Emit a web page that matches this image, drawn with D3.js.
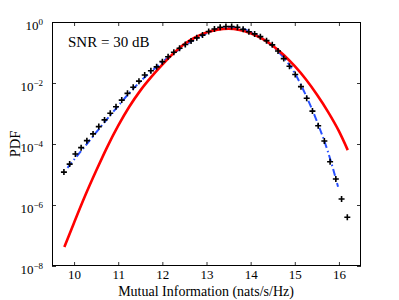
<!DOCTYPE html>
<html><head><meta charset="utf-8">
<script src="https://cdn.jsdelivr.net/npm/d3@7"></script>
<style>
html,body{margin:0;padding:0;background:#fff;}
svg text{font-family:"Liberation Serif","Times New Roman",serif;fill:#000;}
</style></head>
<body><svg id="c" width="399" height="300"></svg>
<script>
// Simulated histogram (markers)
const simX = [9.77,9.90,10.03,10.16,10.29,10.43,10.56,10.69,10.82,10.95,11.08,11.21,11.34,11.47,11.60,11.74,11.87,12.00,12.13,12.26,12.39,12.52,12.65,12.78,12.91,13.05,13.18,13.31,13.44,13.57,13.70,13.83,13.96,14.09,14.22,14.36,14.49,14.62,14.75,14.88,15.01,15.14,15.27,15.40,15.53,15.67,15.80,15.93,16.06,16.19];
const simPdf = [1.2e-5,2.19e-5,4.68e-5,7.59e-5,1.29e-4,2.14e-4,3.72e-4,6.17e-4,1.02e-3,1.66e-3,2.75e-3,4.57e-3,7.24e-3,1.15e-2,1.82e-2,2.51e-2,3.39e-2,5.01e-2,7.24e-2,0.102,0.138,0.182,0.240,0.302,0.372,0.490,0.589,0.676,0.708,0.708,0.676,0.575,0.479,0.407,0.331,0.245,0.178,0.112,0.0631,0.0355,0.0191,7.59e-3,3.16e-3,1.20e-3,3.98e-4,1.26e-4,2.63e-5,7.08e-6,1.58e-6,3.98e-7];
// Fitted curve (blue dash-dot)
const fitX = [9.85,10.0,10.25,10.5,10.75,11.0,11.25,11.5,11.75,12.0,12.25,12.5,12.75,13.0,13.25,13.5,13.75,14.0,14.25,14.5,14.75,15.0,15.25,15.5,15.75,15.98];
const fitPdf = [1.66e-5,3.09e-5,8.51e-5,2.40e-4,6.61e-4,1.78e-3,4.68e-3,1.12e-2,2.40e-2,4.90e-2,9.33e-2,0.166,0.275,0.427,0.589,0.692,0.646,0.468,0.295,0.162,0.0676,0.0209,3.98e-3,5.62e-4,5.62e-5,3.98e-6];
// Gaussian approximation (red)
const gaussX = [9.78,10.0,10.25,10.5,10.75,11.0,11.25,11.5,11.75,12.0,12.25,12.5,12.75,13.0,13.25,13.5,13.75,14.0,14.25,14.5,14.75,15.0,15.25,15.5,15.75,16.0,16.2];
const gaussPdf = [4.17e-8,2.63e-7,2.0e-6,1.32e-5,7.94e-5,3.98e-4,1.66e-3,5.62e-3,1.58e-2,3.98e-2,9.33e-2,0.191,0.316,0.457,0.562,0.603,0.550,0.427,0.288,0.166,0.0832,0.0355,0.0132,4.17e-3,1.15e-3,2.63e-4,6.31e-5];
const xTicks = [10,11,12,13,14,15,16];
const yTicks = [1,1e-2,1e-4,1e-6,1e-8];
const yTickExp = ["0","\u22122","\u22124","\u22126","\u22128"];
const annotation = "SNR = 30 dB";
const xTitle = "Mutual Information (nats/s/Hz)";
const yTitle = "PDF";

const L=52, R=361, T=22, B=266;
const svg = d3.select("#c");
const x = d3.scaleLinear().domain([9.5,16.5]).range([L,R]);
const y = d3.scaleLog().domain([1e-8,1]).range([B,T]);

// axes with inward ticks
const gx = svg.append("g").attr("transform",`translate(0,${B})`)
  .call(d3.axisBottom(x).tickValues(xTicks).tickSizeInner(-4).tickSizeOuter(0).tickPadding(4).tickFormat(d3.format("d")));
const gxt = svg.append("g").attr("transform",`translate(0,${T})`)
  .call(d3.axisTop(x).tickValues(xTicks).tickSizeInner(-4).tickSizeOuter(0).tickFormat(""));
const gy = svg.append("g").attr("transform",`translate(${L},0)`)
  .call(d3.axisLeft(y).tickValues(yTicks).tickSizeInner(-4).tickSizeOuter(0).tickPadding(9).tickFormat(""));
const gyr = svg.append("g").attr("transform",`translate(${R},0)`)
  .call(d3.axisRight(y).tickValues(yTicks).tickSizeInner(-4).tickSizeOuter(0).tickFormat(""));
[gx,gxt,gy,gyr].forEach(g=>{
  g.select(".domain").remove();
  g.selectAll(".tick line").attr("stroke","#000").attr("stroke-width",0.8);
});
gx.selectAll(".tick text").attr("font-size",13).attr("font-family","Liberation Serif");
gy.selectAll(".tick text").each(function(d,i){
  const t=d3.select(this).attr("font-size",13).attr("font-family","Liberation Serif").attr("dy","0.55em");
  t.append("tspan").text("10");
  t.append("tspan").attr("dy","-0.55em").attr("font-size",9).text(yTickExp[i]);
});

// box
svg.append("rect").attr("x",L+0.5).attr("y",T+0.5).attr("width",R-L-1).attr("height",B-T-1)
  .attr("fill","none").attr("stroke","#000").attr("stroke-width",1);

const line = (xs,ys)=>d3.line().x((d,i)=>x(xs[i])).y((d,i)=>y(ys[i])).curve(d3.curveMonotoneX)(xs);

svg.append("path").attr("d",line(fitX,fitPdf)).attr("fill","none")
  .attr("stroke","#2850ff").attr("stroke-width",2).attr("stroke-dasharray","7,3,1.5,3");
svg.append("path").attr("d",line(gaussX,gaussPdf)).attr("fill","none")
  .attr("stroke","#ff0000").attr("stroke-width",2.6);
svg.append("g").selectAll("path").data(simX).join("path")
  .attr("transform",(d,i)=>`translate(${x(d)},${y(simPdf[i])})`)
  .attr("d","M-3,0H3M0,-3V3").attr("stroke","#000").attr("stroke-width",1.6).attr("fill","none");

svg.append("text").attr("x",68).attr("y",47).attr("font-size",15).text(annotation);
svg.append("text").attr("x",206).attr("y",296).attr("text-anchor","middle").attr("font-size",14).text(xTitle);
svg.append("text").attr("transform",`translate(20,${(T+B)/2}) rotate(-90)`).attr("text-anchor","middle").attr("font-size",14.5).text(yTitle);
</script></body></html>
